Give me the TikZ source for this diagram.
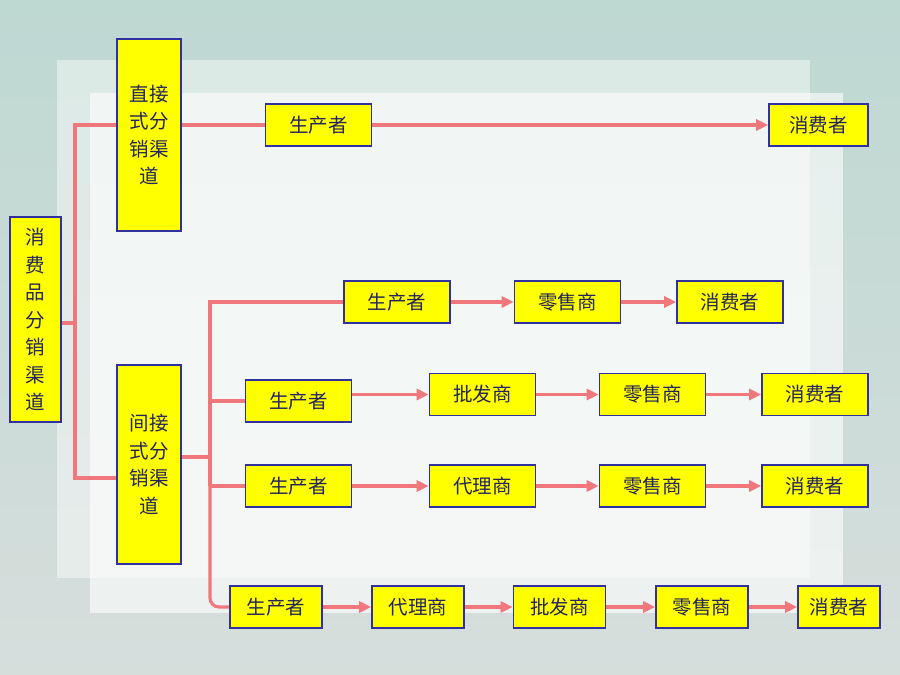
\documentclass[tikz,border=0pt]{standalone}
\usepackage{fontspec}
\setmainfont{Noto Sans CJK SC}
\usetikzlibrary{arrows.meta}
\pgfdeclarelayer{backdrop}
\pgfdeclarelayer{wires}
\pgfsetlayers{backdrop,wires,main}
\definecolor{custcol_bg_top}{RGB}{190,216,210}
\definecolor{custcol_bg_bot}{RGB}{214,222,220}
\definecolor{custcol_box}{RGB}{255,255,0}
\definecolor{custcol_edge}{RGB}{48,48,160}
\definecolor{custcol_text}{RGB}{36,36,90}
\definecolor{custcol_wire}{RGB}{240,120,125}
\begin{document}
\begin{tikzpicture}[x=1pt,y=-1pt,line cap=rect,
  box/.style={draw=custcol_edge, fill=custcol_box, line width=1.6pt, text=custcol_text,
    font=\fontsize{19.5pt}{19.5pt}\selectfont, inner sep=0, minimum height=42pt, minimum width=106pt},
  tallbox/.style={box, align=center, font=\fontsize{19.5pt}{27.5pt}\selectfont},
  wire/.style={draw=custcol_wire, line width=3.2pt},
  feed/.style={wire, -{Triangle[length=12pt,width=11pt]}, line cap=butt}]
  % background
  \begin{pgfonlayer}{backdrop}
  \shade [top color=custcol_bg_top, bottom color=custcol_bg_bot] (0,0) rectangle (900,675);
  \fill [white, opacity=0.45] (57,60) rectangle (810,578);
  \fill [white, opacity=0.6] (90,93) rectangle (843,613);
  \end{pgfonlayer}
  % channel boxes
  \node[tallbox, minimum width=51pt, minimum height=205pt] (root) at (35.5,319.5) {消\\费\\品\\分\\销\\渠\\道};
  \node[tallbox, minimum width=64pt, minimum height=192pt] (direct) at (149,135) {直接\\式分\\销渠\\道};
  \node[tallbox, minimum width=64pt, minimum height=199pt] (indirect) at (149,464.5) {间接\\式分\\销渠\\道};
  % direct row
  \node[box] (p0) at (318.5,125) {生产者};
  \node[box, minimum width=99pt] (c0) at (818.5,125) {消费者};
  % indirect rows
  \node[box] (p1) at (397,302) {生产者};
  \node[box] (r1) at (567.5,302) {零售商};
  \node[box] (c1) at (730,302) {消费者};
  \node[box] (p2) at (298.5,401) {生产者};
  \node[box] (w2) at (482.5,394.5) {批发商};
  \node[box] (r2) at (652.5,394.5) {零售商};
  \node[box] (c2) at (815,394.5) {消费者};
  \node[box] (p3) at (298.5,486) {生产者};
  \node[box] (a3) at (482.5,486) {代理商};
  \node[box] (r3) at (652.5,486) {零售商};
  \node[box] (c3) at (815,486) {消费者};
  \node[box, minimum width=92pt] (p4) at (276,607) {生产者};
  \node[box, minimum width=92pt] (a4) at (418,607) {代理商};
  \node[box, minimum width=92pt] (w4) at (559.5,607) {批发商};
  \node[box, minimum width=92pt] (r4) at (702,607) {零售商};
  \node[box, minimum width=82pt] (c4) at (839,607) {消费者};
  % trunks
  \coordinate (jroot) at (75,323);
  \coordinate (jtop) at (75,125);
  \coordinate (jbot) at (75,478);
  \coordinate (jmid) at (210,457);
  \coordinate (jrow1) at (210,302);
  \begin{pgfonlayer}{wires}
  \draw [wire] (root.east |- jroot) -- (jroot);
  \draw [wire] (direct.west |- jtop) -- (jtop) -- (jbot) -- (indirect.west |- jbot);
  \draw [wire] (direct.east |- jtop) -- (p0.west);
  \draw [wire] (indirect.east |- jmid) -- (jmid);
  \draw [wire] (p1.west) -- (jrow1) -- (jrow1 |- p3.west);
  \draw [wire, rounded corners=9pt] (jrow1 |- p3.west) -- (jrow1 |- p4.west) -- (p4.west);
  \draw [wire] (jrow1 |- p2.west) -- (p2.west);
  \draw [wire] (jrow1 |- p3.west) -- (p3.west);
  \end{pgfonlayer}
  % flows
  \draw [feed] (p0) -- (c0);
  \draw [feed] (p1) -- (r1);
  \draw [feed] (r1) -- (c1);
  \draw [feed] (p2.east |- w2.west) -- (w2.west);
  \draw [feed] (w2) -- (r2);
  \draw [feed] (r2) -- (c2);
  \draw [feed] (p3) -- (a3);
  \draw [feed] (a3) -- (r3);
  \draw [feed] (r3) -- (c3);
  \draw [feed] (p4) -- (a4);
  \draw [feed] (a4) -- (w4);
  \draw [feed] (w4) -- (r4);
  \draw [feed] (r4) -- (c4);
\end{tikzpicture}
\end{document}
